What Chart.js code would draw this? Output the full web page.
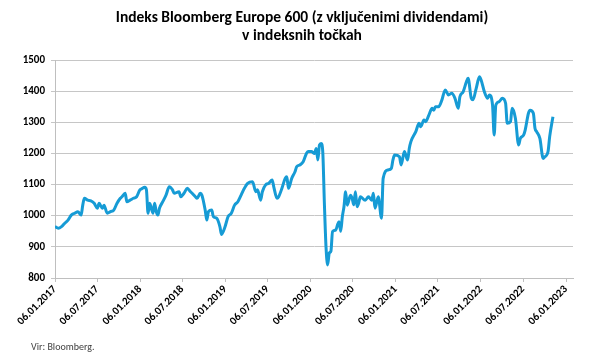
<!DOCTYPE html>
<html><head><meta charset="utf-8">
<script src="https://cdn.jsdelivr.net/npm/chart.js@4"></script>
<style>html,body{margin:0;padding:0;background:#fff}#wrap{width:600px;height:356px;position:relative}</style>
</head><body><div id="wrap"><canvas id="c" width="600" height="356"></canvas></div>
<script>
const titleLines = ['Indeks Bloomberg Europe 600 (z vključenimi dividendami)', 'v indeksnih točkah'];
const sourceText = 'Vir: Bloomberg.';
const startDate = '06.01.2017';
// weeks since 06.01.2017 (weekly Friday closes)
const weeks = [0,2,4,6,8,10,12,14,16,17,18,20,22,24,26,27,29,30,32,34,36,38,40,41,43,44,46,48,50,52,
53,55,56,57,58,60,61,62,63,64,66,68,70,72,73,76,77,79,81,83,84,86,87,89,90,92,93,94,96,97,99,101,102,104,
106,108,110,112,114,116,118,121,123,124,126,127,129,131,133,134,136,137,139,141,142,143,145,147,148,150,152,154,155,
157,159,160,161,162,163,164,165,166,167,168,169,170,172,173,174,175,176,177,178,179,181,182,183,184,185,186,187,190,192,194,195,196,198,200,
201,204,206,207,208,211,212,214,216,217,218,221,223,224,226,227,229,231,232,233,235,237,239,241,243,245,247,248,250,252,253,255,256,258,260,
261,263,265,266,268,269,270,272,274,276,277,279,280,282,284,285,287,288,290,291,293,294,295,297,299,300,302,303,305];
const values = [965,960,965,976,986,1002,1008,1013,1002,1034,1056,1050,1048,1040,1024,1040,1024,1034,1008,1013,1018,1040,1056,1061,1072,1045,1050,1056,1061,1083,
1086,1091,1083,1008,1040,1008,1040,1013,1002,1024,1045,1066,1093,1083,1072,1077,1061,1072,1088,1077,1072,1061,1056,1072,1066,1018,986,1013,1018,997,992,965,940,962,
997,1008,1034,1045,1066,1088,1104,1109,1077,1083,1050,1077,1099,1104,1115,1093,1056,1061,1088,1120,1125,1088,1120,1141,1157,1163,1173,1200,1206,
1206,1200,1216,1179,1227,1232,1206,1040,900,842,880,886,949,954,970,981,950,997,1029,1077,1034,1066,1056,1035,1077,1029,1040,1061,1050,1061,1050,1072,1024,1061,992,
1120,1147,1152,1179,1195,1189,1163,1206,1179,1216,1238,1270,1297,1286,1307,1302,1323,1345,1339,1350,1350,1372,1404,1388,1393,1377,1345,1382,1398,1430,1441,1377,1372,1409,1446,
1436,1398,1377,1388,1355,1259,1355,1366,1377,1361,1297,1302,1345,1313,1227,1248,1259,1275,1329,1339,1329,1281,1270,1248,1184,1189,1206,1254,1318];
const tickLabels = ['06.01.2017','06.07.2017','06.01.2018','06.07.2018','06.01.2019','06.07.2019','06.01.2020','06.07.2020','06.01.2021','06.07.2021','06.01.2022','06.07.2022','06.01.2023'];
const yMin = 800, yMax = 1500, yStep = 100;

const FONT = 'Carlito, Lato, "Liberation Sans", sans-serif';
function parseDMY(s){const p=s.split('.');return Date.UTC(+p[2],+p[1]-1,+p[0]);}
const t0 = parseDMY(startDate);
const tickDays = tickLabels.map(s => Math.round((parseDMY(s)-t0)/86400000));
const xMaxDays = Math.round(tickDays[tickDays.length-1]*518/511);

const textPlugin = {
  id:'texts',
  afterDraw(chart){
    const ctx = chart.ctx;
    ctx.save();
    ctx.fillStyle = '#000';
    ctx.textAlign = 'center';
    ctx.textBaseline = 'middle';
    ctx.font = 'bold 15.5px ' + FONT;
    ctx.fillText(titleLines[0], 302, 18);
    ctx.fillText(titleLines[1], 302, 36);
    ctx.textAlign = 'left';
    ctx.fillStyle = '#404040';
    ctx.font = '10px ' + FONT;
    ctx.fillText(sourceText, 31, 347);
    ctx.restore();
  }
};

new Chart(document.getElementById('c'), {
  type:'line',
  data:{datasets:[{
    data: weeks.map((w,i)=>({x:w*7, y:values[i]})),
    borderColor:'#169bd5', borderWidth:3, pointRadius:0, fill:false,
    cubicInterpolationMode:'monotone'
  }]},
  options:{
    responsive:false, animation:false, devicePixelRatio:1,
    layout:{padding:{top:60,left:0,right:27,bottom:0}, autoPadding:false},
    plugins:{legend:{display:false}, tooltip:{enabled:false}, title:{display:false}},
    scales:{
      x:{type:'linear', min:0, max:xMaxDays,
        afterBuildTicks: a => { a.ticks = tickDays.map(v=>({value:v})); },
        afterFit: a => { a.height = 78; },
        ticks:{autoSkip:false, maxRotation:45, minRotation:45, padding:1, color:'#000',
          font:{family:FONT, size:11, weight:'bold'},
          callback:(v,i)=>tickLabels[i]},
        grid:{drawOnChartArea:false, drawTicks:true, tickLength:4, color:'#bfbfbf'},
        border:{display:true, color:'#bfbfbf'}
      },
      y:{min:yMin, max:yMax,
        afterFit: a => { a.width = 55; },
        ticks:{stepSize:yStep, padding:6, color:'#000', font:{family:FONT, size:11, weight:'bold'},
          callback:v=>String(v)},
        grid:{color:'#c6c6c6', tickLength:4},
        border:{display:true, color:'#bfbfbf'}
      }
    }
  },
  plugins:[textPlugin]
});
</script></body></html>
